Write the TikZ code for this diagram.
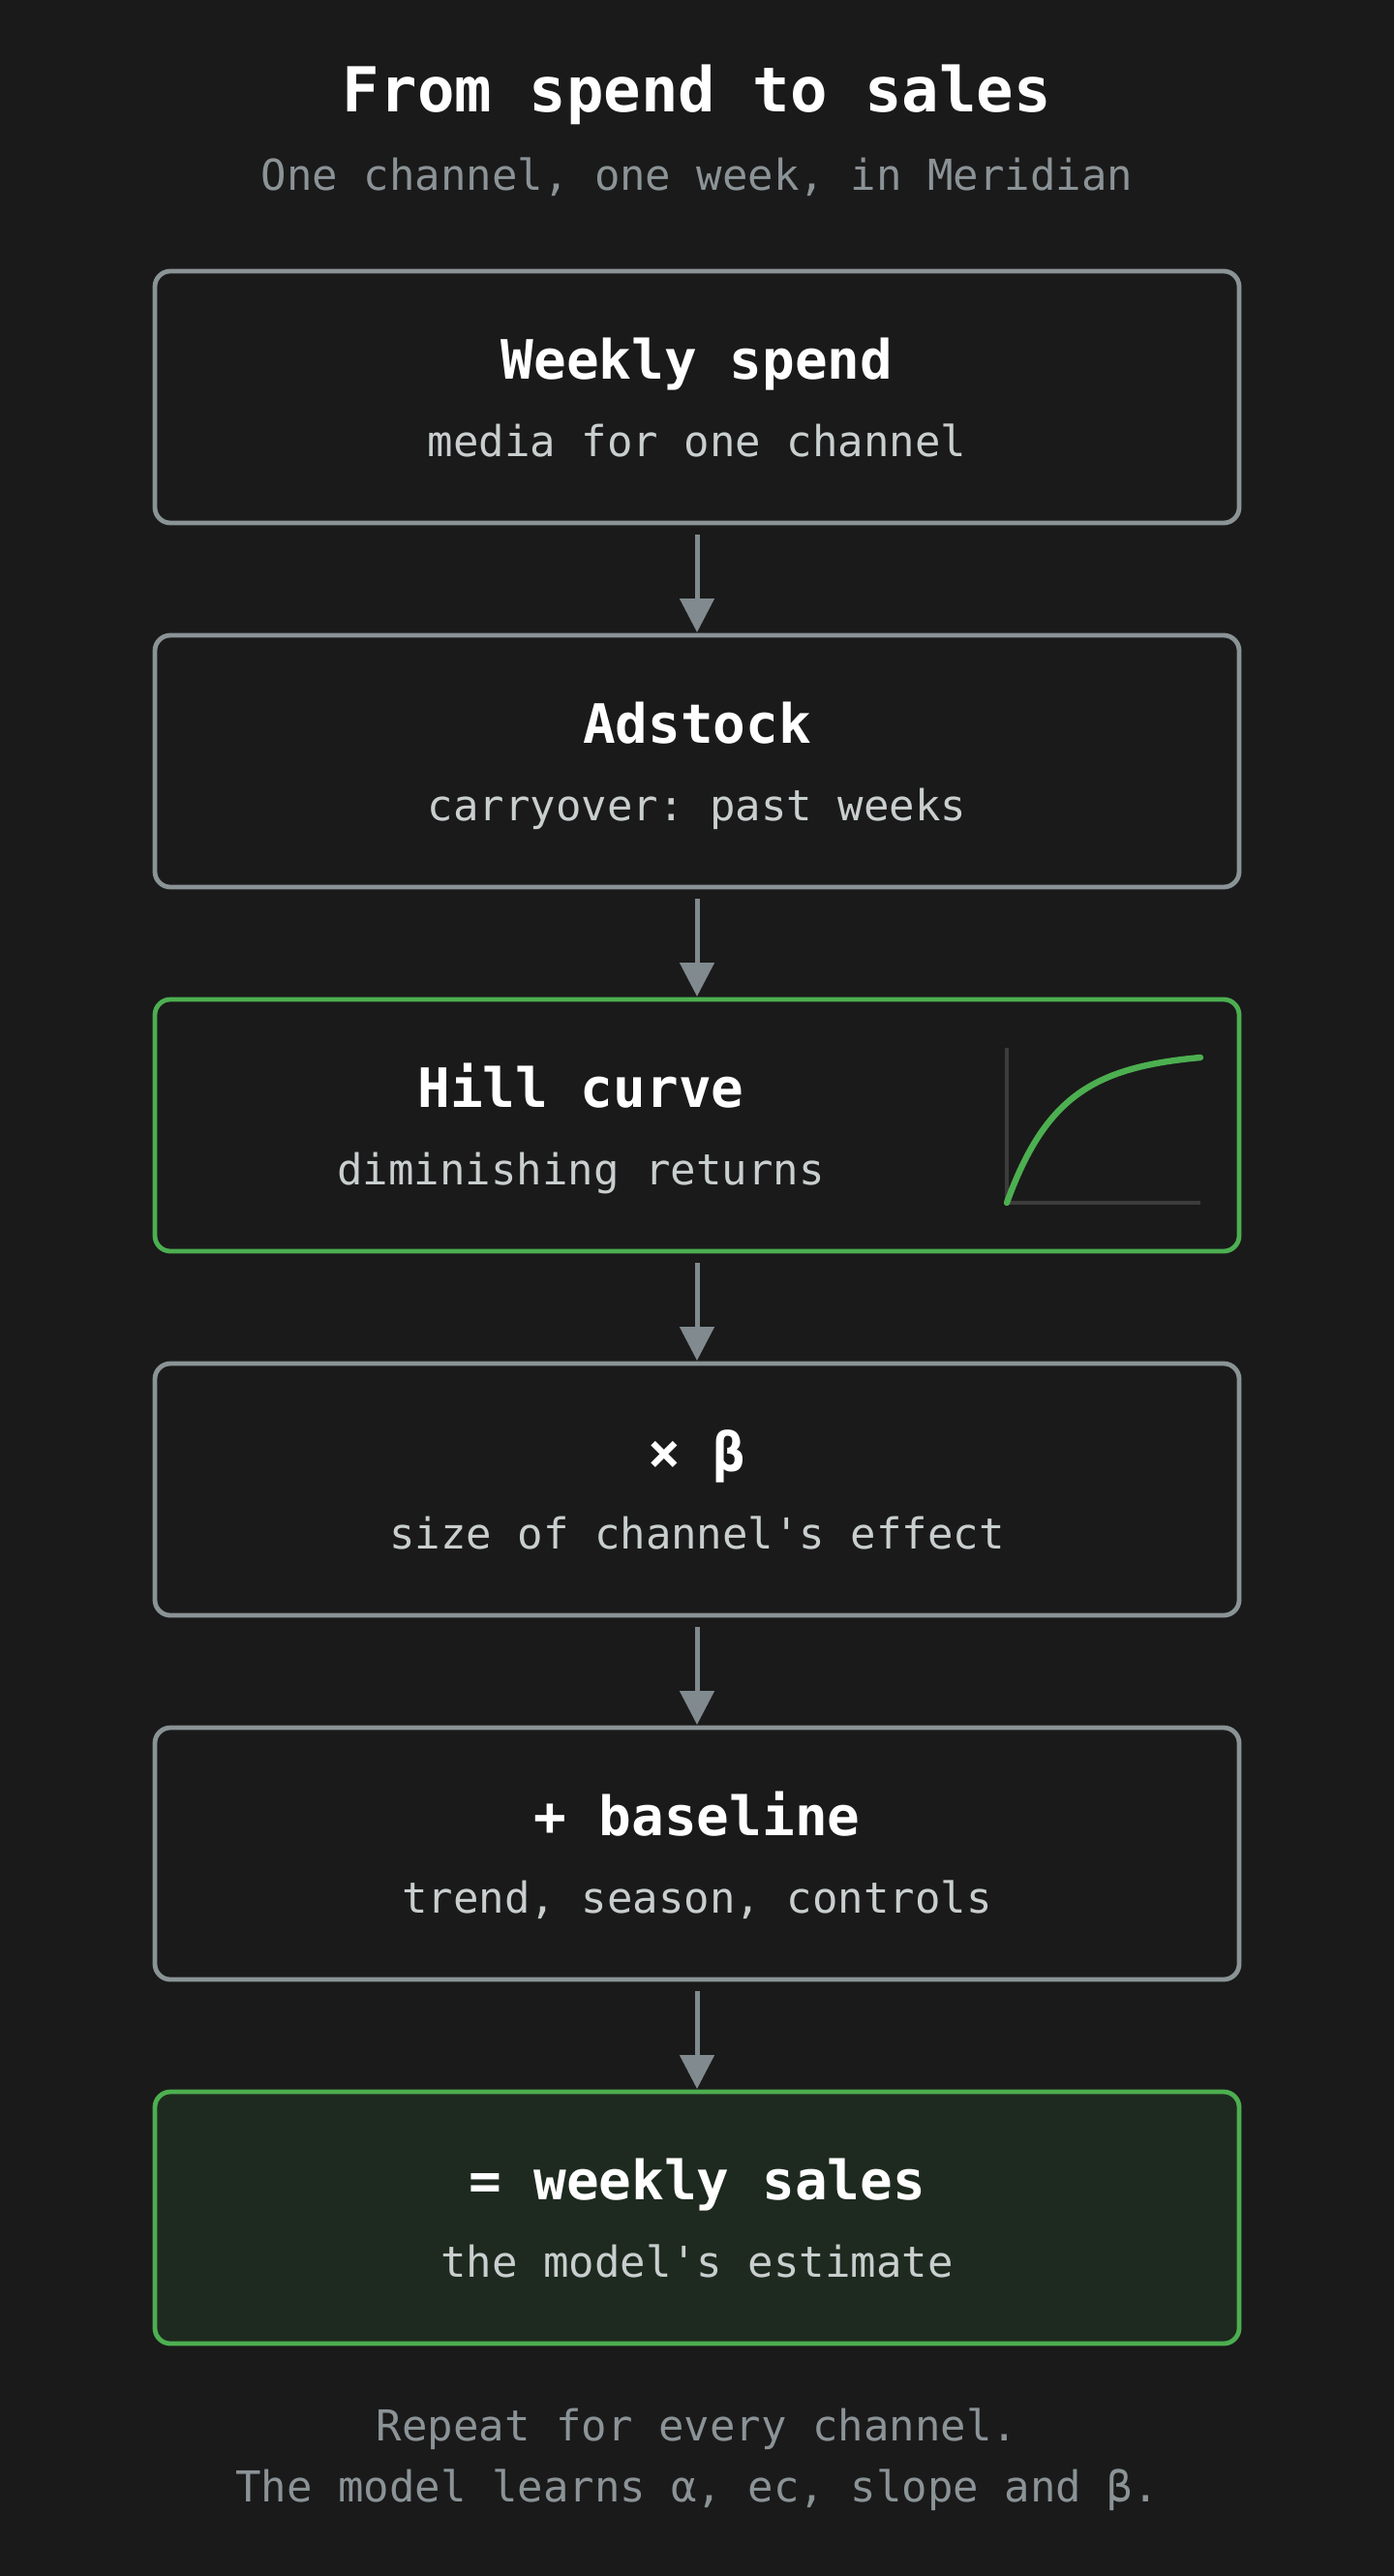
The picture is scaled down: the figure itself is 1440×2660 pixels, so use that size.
\documentclass[tikz,border=0pt]{standalone}
\usepackage{fontspec}
\setmonofont{DejaVu Sans Mono}
\usetikzlibrary{arrows.meta}
\usetikzlibrary{calc}
\usepackage{xcolor}

\definecolor{bgdark}{HTML}{1A1A1A}
\definecolor{edgegray}{HTML}{8A9396}
\definecolor{arrowgray}{HTML}{808A8F}
\definecolor{hillgreen}{HTML}{4CAF50}
\definecolor{salesfill}{HTML}{1E2A1F}
\definecolor{subgray}{HTML}{8B9397}
\definecolor{lightgray}{HTML}{C9CECE}
\definecolor{axisgray}{HTML}{3C3C3C}

\begin{document}
\begin{tikzpicture}[x=0.5pt,y=-0.5pt,
    plainbox/.style={draw=edgegray, line width=2.4pt, fill=bgdark, rounded corners=8pt,
      minimum width=560pt, minimum height=130pt, outer sep=0pt, inner sep=0pt},
    greenbox/.style={plainbox, draw=hillgreen},
    salesbox/.style={greenbox, fill=salesfill},
    headtext/.style={anchor=base, text=white, font=\ttfamily\bfseries\fontsize{28}{32}\selectfont},
    subtext/.style={anchor=base, text=lightgray, font=\ttfamily\fontsize{22}{26}\selectfont},
    notetext/.style={anchor=base, text=subgray, font=\ttfamily\fontsize{22}{26}\selectfont},
    flowarrow/.style={draw=arrowgray, line width=2.5pt, -{Triangle[width=17.5pt,length=17.5pt]}},
    axisline/.style={draw=axisgray, line width=1.6pt},
    hillline/.style={draw=hillgreen, line width=3.2pt, line cap=round}]

        % Background
        \fill[bgdark] (0,0) rectangle (1440,2660);
        \useasboundingbox (0,0) rectangle (1440,2660);

        % Title
        \node[anchor=base, text=white, font=\ttfamily\bfseries\fontsize{32}{36}\selectfont] (title) at (720,116) {From spend to sales};
        \node[notetext] (subtitle) at (720,196) {One channel, one week, in Meridian};

        % Stages
        \foreach \n/\st/\tx/\head/\sub [count=\k from 0] in
          {spend/plainbox/720/{Weekly spend}/{media for one channel},
           adstock/plainbox/720/{Adstock}/{carryover: past weeks},
           hill/greenbox/600/{Hill curve}/{diminishing returns},
           beta/plainbox/720/{× β}/{size of channel's effect},
           base/plainbox/720/{+ baseline}/{trend, season, controls},
           sales/salesbox/720/{= weekly sales}/{the model's estimate}}
        {
          \node[\st] (\n) at (720,{410+376*\k}) {};
          \node[headtext] (\n-head) at (\tx,{391+376*\k}) {\head};
          \node[subtext] (\n-sub) at (\tx,{471+376*\k}) {\sub};
        }

        % Arrows
        \foreach \a/\b in {spend/adstock, adstock/hill, hill/beta, beta/base, base/sales}
        {
          \draw[flowarrow] ([yshift=-6pt]\a.south) -- ([yshift=1.5pt]\b.north);
        }

        % Hill curve sketch
        \coordinate (hill-o) at ($(hill.east)+(-240,80)$);
        \draw[axisline] ($(hill-o)+(0,-160)$) -- (hill-o) -- ($(hill-o)+(200,0)$);
        \draw[hillline] (hill-o) .. controls ($(hill-o)+(40,-110)$) and ($(hill-o)+(90,-140)$) .. ($(hill-o)+(200,-150)$);

        % Footnote
        \node[notetext] (note1) at (720,2520) {Repeat for every channel.};
        \node[notetext] (note2) at (720,2583) {The model learns α, ec, slope and β.};
    \end{tikzpicture}
\end{document}
